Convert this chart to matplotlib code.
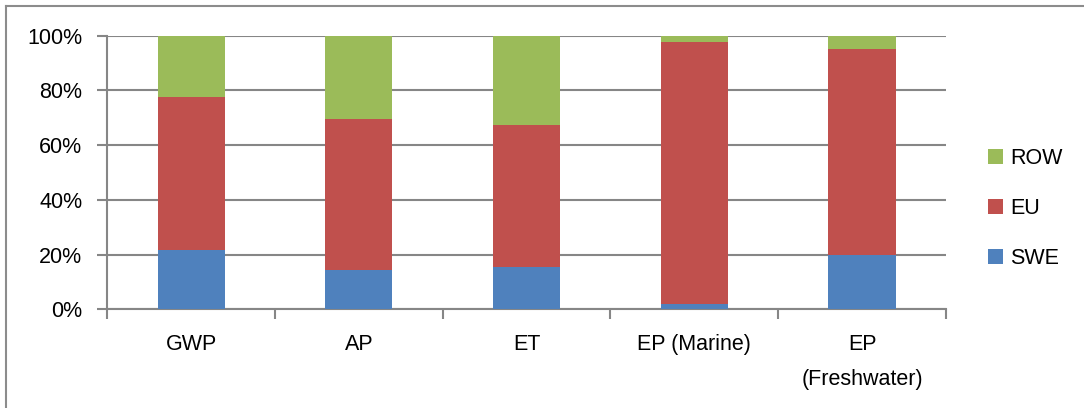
import numpy as np
import matplotlib.pyplot as plt
from matplotlib.lines import Line2D
from matplotlib.ticker import PercentFormatter

plt.rcParams['font.family'] = ['Liberation Sans', 'DejaVu Sans']

categories = ['GWP', 'AP', 'ET', 'EP (Marine)', 'EP\n(Freshwater)']
swe = [21.7, 14.4, 15.3, 1.9, 19.8]
eu = [56.0, 55.2, 52.0, 95.9, 75.2]
row = [22.3, 30.4, 32.7, 2.2, 5.0]

c_swe = '#4F81BD'
c_eu = '#C0504D'
c_row = '#9BBB59'
grid_c = '#868686'
fs = 15.5

fig = plt.figure(figsize=(10.84, 4.08), dpi=100)
ax = fig.add_axes([0.099, 0.2419, 0.7736, 0.6706])

x = np.arange(len(categories))
swe = np.array(swe)
eu = np.array(eu)
row = np.array(row)
w = 0.4
b1 = ax.bar(x, swe, w, color=c_swe, label='SWE', zorder=3)
b2 = ax.bar(x, eu, w, bottom=swe, color=c_eu, label='EU', zorder=3)
b3 = ax.bar(x, row, w, bottom=swe + eu, color=c_row, label='ROW', zorder=3)

ax.set_xlim(-0.5, len(categories) - 0.5)
ax.set_ylim(0, 100)
ax.set_yticks(np.arange(0, 101, 20))
ax.yaxis.set_major_formatter(PercentFormatter(decimals=0))
ax.grid(axis='y', color=grid_c, linewidth=1.5, zorder=0)
ax.set_axisbelow(True)

ax.set_xticks(x)
ax.set_xticklabels(categories, fontsize=fs, linespacing=1.85)
ax.tick_params(axis='x', which='major', length=0, pad=18)
ax.set_xticks(np.arange(-0.5, len(categories), 1), minor=True)
ax.tick_params(axis='x', which='minor', length=7, width=1.5, color=grid_c, direction='out')
ax.tick_params(axis='y', length=7, width=1.5, color=grid_c, labelsize=fs, pad=11)

for s in ['top', 'right']:
    ax.spines[s].set_visible(False)
for s in ['left', 'bottom']:
    ax.spines[s].set_color(grid_c)
    ax.spines[s].set_linewidth(1.5)

ax.legend(handles=[b3, b2, b1], loc='center left', bbox_to_anchor=(1.05, 0.368),
          borderaxespad=0, borderpad=0, frameon=False, fontsize=fs,
          handlelength=0.7, handleheight=0.7, handletextpad=0.35, labelspacing=1.35)

# outer chart frame
fig.add_artist(Line2D([0.0055, 0.0055], [0, 0.985], transform=fig.transFigure,
                      color='#8c8c8c', linewidth=1.5))
fig.add_artist(Line2D([0.0055, 1.0], [0.985, 0.985], transform=fig.transFigure,
                      color='#8c8c8c', linewidth=1.5))

fig.savefig('out.png', dpi=100)
